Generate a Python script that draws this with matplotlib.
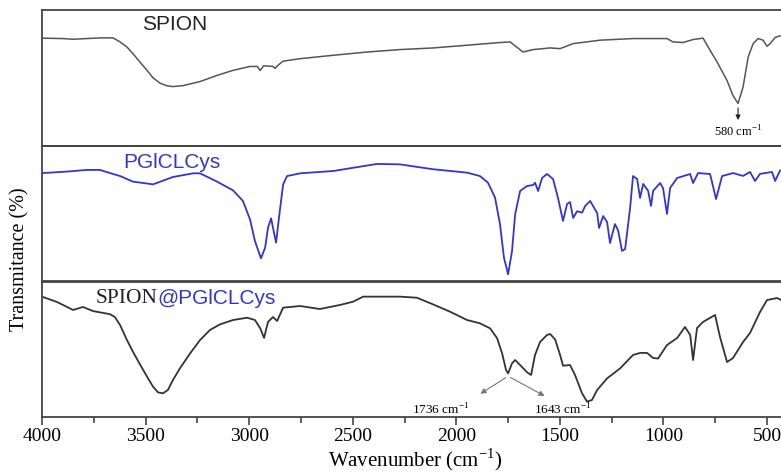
import numpy as np
import matplotlib.pyplot as plt

# FTIR spectra (wavenumber in cm-1, transmittance in panel units 0-100)
spion_wn = [3995, 3900, 3850, 3783, 3720, 3657, 3623, 3590, 3561, 3527, 3493, 3464, 3430, 3396,
            3368, 3319, 3237, 3155, 3078, 2996, 2960, 2947, 2930, 2885, 2875, 2860, 2836, 2754,
            2595, 2431, 2272, 2112, 1948, 1789, 1740, 1678, 1629, 1547, 1499, 1436, 1306, 1147,
            983, 954, 905, 857, 809, 775, 741, 693, 664, 640, 616, 591, 567, 543, 519, 500,
            485, 461, 437]
spion_t = [79.3, 79.0, 78.5, 79.0, 79.5, 79.5, 76.5, 72.8, 67.9, 61.7, 55.6, 50.1, 46.2, 44.2,
           43.7, 44.4, 47.4, 51.9, 55.6, 58.5, 58.5, 55.5, 59.0, 58.5, 57.0, 59.5, 62.4, 64.2,
           66.7, 69.1, 70.9, 72.1, 74.1, 76.1, 76.5, 69.1, 70.9, 72.1, 71.6, 75.3, 77.8, 79.0,
           79.0, 76.5, 76.1, 78.3, 79.3, 70.4, 61.7, 48.1, 37.0, 31.3, 43.2, 65.4, 75.3, 79.0,
           77.8, 73.3, 75.3, 79.8, 81.0]

pgl_wn = [3995, 3879, 3783, 3720, 3672, 3623, 3561, 3464, 3368, 3271, 3237, 3155, 3078, 3030,
          2996, 2972, 2943, 2923, 2909, 2894, 2885, 2870, 2856, 2836, 2817, 2754, 2595, 2383,
          2272, 2112, 1948, 1886, 1847, 1813, 1789, 1770, 1750, 1731, 1716, 1692, 1658, 1629,
          1620, 1605, 1586, 1562, 1533, 1509, 1485, 1465, 1451, 1436, 1417, 1393, 1378, 1354,
          1320, 1311, 1291, 1272, 1258, 1234, 1219, 1200, 1185, 1161, 1147, 1127, 1113, 1098,
          1074, 1060, 1050, 1016, 1002, 983, 968, 934, 871, 857, 833, 775, 746, 717, 664, 616,
          582, 558, 534, 476, 461, 437]
pgl_t = [80.1, 81.2, 82.4, 82.4, 80.1, 77.9, 73.8, 71.8, 77.2, 79.9, 79.9, 73.8, 67.4, 59.6,
         46.1, 30.1, 17.4, 25.2, 39.9, 46.8, 39.9, 28.9, 47.3, 71.8, 77.9, 79.9, 81.6, 86.8,
         86.5, 82.9, 80.4, 77.9, 73.0, 62.0, 42.4, 17.9, 5.7, 22.8, 49.8, 66.9, 70.6, 71.3,
         73.0, 66.9, 76.5, 79.4, 75.7, 61.8, 44.9, 57.4, 58.8, 47.1, 52.0, 51.0, 55.9, 59.6,
         50.7, 39.7, 48.5, 44.0, 28.7, 42.6, 38.0, 22.8, 24.3, 54.4, 77.9, 75.7, 61.8, 72.1,
         67.0, 55.9, 67.0, 72.8, 69.0, 50.0, 69.1, 76.5, 79.4, 72.8, 80.1, 79.4, 61.0, 77.9,
         80.1, 78.0, 80.9, 74.3, 79.5, 80.9, 74.3, 82.0]

comp_wn = [3995, 3928, 3850, 3802, 3754, 3672, 3648, 3623, 3590, 3561, 3527, 3493, 3464, 3440,
           3416, 3392, 3368, 3334, 3285, 3237, 3189, 3141, 3078, 3010, 2972, 2947, 2928, 2909,
           2885, 2865, 2836, 2754, 2658, 2561, 2498, 2450, 2272, 2190, 2112, 2030, 1948, 1886,
           1837, 1803, 1779, 1760, 1750, 1731, 1716, 1692, 1658, 1639, 1620, 1596, 1562, 1547,
           1523, 1499, 1485, 1451, 1427, 1393, 1369, 1345, 1320, 1272, 1209, 1147, 1113, 1079,
           1050, 1026, 983, 934, 896, 871, 857, 838, 809, 751, 727, 693, 664, 616, 582, 534,
           500, 451, 432]
comp_t = [88.2, 84.6, 78.7, 80.9, 77.9, 75.6, 73.5, 67.6, 56.6, 48.0, 38.7, 29.7, 22.3, 18.1,
          17.4, 19.9, 27.2, 35.8, 46.8, 56.6, 64.0, 68.1, 71.3, 73.0, 71.3, 65.4, 58.1, 69.9,
          73.5, 70.6, 80.4, 81.6, 79.4, 82.4, 84.8, 88.5, 88.5, 87.7, 82.8, 77.4, 71.3, 68.9,
          65.2, 57.9, 46.8, 34.6, 32.1, 39.5, 41.9, 38.2, 32.8, 30.9, 45.6, 55.1, 60.3, 61.0,
          57.0, 45.6, 37.7, 38.2, 30.9, 17.4, 11.3, 12.5, 19.9, 28.4, 35.8, 45.6, 47.1, 47.1,
          43.4, 43.0, 52.9, 58.1, 66.2, 60.3, 41.9, 65.4, 69.9, 75.0, 58.8, 40.4, 43.4, 55.1,
          61.8, 77.2, 86.0, 87.5, 86.0]

xticks = [4000, 3500, 3000, 2500, 2000, 1500, 1000, 500]

serif = 'Liberation Serif'
sans = 'Liberation Sans'
blue = '#3434d2'

fig = plt.figure(figsize=(7.81, 4.76), dpi=100)
W, H = 781, 476
left, right = 42, 789
tops = [10, 146, 281]
ph = 136

axes = []
for i, top in enumerate(tops):
    ax = fig.add_axes([left / W, 1 - (top + ph) / H, (right - left) / W, ph / H])
    ax.set_xlim(4000, 394)
    ax.set_ylim(0, 100)
    ax.set_yticks([])
    for s in ax.spines.values():
        s.set_linewidth(1.3)
        s.set_color('#444444')
    ax.spines['right'].set_visible(False)
    ax.set_facecolor('none')
    axes.append(ax)

for ax in axes[:2]:
    ax.set_xticks([])

ax1, ax2, ax3 = axes
ax1.plot(spion_wn, spion_t, color='#555555', lw=1.1)
ax2.plot(pgl_wn, pgl_t, color=blue, lw=1.3)
ax3.plot(comp_wn, comp_t, color='#333333', lw=1.3)

ax3.set_xticks(xticks)
ax3.set_xticks(np.arange(3750, 400, -500), minor=True)
ax3.tick_params(axis='x', which='major', direction='out', length=6, width=1.2, color='#444444',
                labelsize=14, pad=2)
ax3.tick_params(axis='x', which='minor', direction='out', length=4, width=1.2, color='#444444')
for lab in ax3.get_xticklabels():
    lab.set_fontfamily(serif)
ax3.set_xlabel('Wavenumber (cm$^{\\mathregular{-1}}$)', fontsize=15, family=serif, labelpad=1)

fig.text(0.025, 0.455, 'Transmitance (%)', rotation=90, ha='center', va='center',
         fontsize=14.5, family=serif)

# panel labels
ax1.text(3515, 89, 'SPION', fontsize=15, family=sans, color='#222222', va='center')
ax2.text(3607, 88, 'PGlCLCys', fontsize=15, family=sans, color=blue, va='center')
t = ax3.text(3743, 87, 'SPION', fontsize=15.5, family=serif, color='#222222', va='center')
ax3.annotate('@PGlCLCys', xycoords=t, xy=(1, 0.5), xytext=(0, 0), textcoords='offset points',
             va='center', ha='left', fontsize=15, family=sans, color=blue)

# peak annotations
ax1.annotate('', xy=(640, 17), xytext=(640, 30),
             arrowprops=dict(arrowstyle='-|>', color='#222222', lw=0.8, mutation_scale=7))
ax1.text(640, 10, '580 cm$^{\\mathregular{-1}}$', fontsize=9, family=serif, ha='center', va='center')

ax3.annotate('', xy=(1895, 16), xytext=(1750, 30),
             arrowprops=dict(arrowstyle='-|>', color='#777777', lw=0.8, mutation_scale=8))
ax3.annotate('', xy=(1562, 14.5), xytext=(1750, 30),
             arrowprops=dict(arrowstyle='-|>', color='#777777', lw=0.8, mutation_scale=8))
ax3.text(2074, 5.5, '1736 cm$^{\\mathregular{-1}}$', fontsize=9.5, family=serif, ha='center', va='center')
ax3.text(1485, 5.0, '1643 cm$^{\\mathregular{-1}}$', fontsize=9.5, family=serif, ha='center', va='center')

fig.savefig('out.png', dpi=100)
